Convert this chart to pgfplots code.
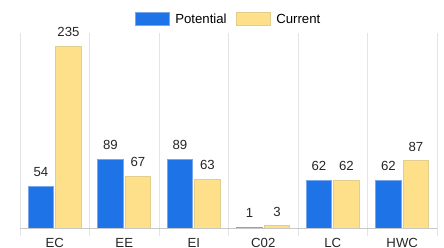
\documentclass[border=0pt]{standalone}
\usepackage{pgfplots}
\pgfplotsset{compat=1.18}
\usepackage{fontspec}
\setmainfont{Liberation Sans}
\definecolor{cblue}{RGB}{30,116,230}
\definecolor{cyellow}{RGB}{255,224,138}
\definecolor{gridc}{RGB}{228,228,228}
\begin{document}
\begin{tikzpicture}
\begin{axis}[
  name=ax,
  scale only axis,
  width=417pt, height=195pt,
  ymin=0, ymax=252,
  xmin=-0.5, xmax=5.5,
  ybar=2pt, bar width=25.5pt,
  /pgf/number format/assume math mode=true,
  xtick={0,1,2,3,4,5},
  xticklabels={EC,EE,EI,C02,LC,HWC},
  minor xtick={-0.5,0.5,1.5,2.5,3.5,4.5,5.5},
  xminorgrids=true,
  minor grid style={gridc, line width=0.8pt},
  major tick length=0pt,
  minor tick length=8pt,
  tick align=outside,
  minor tick style={gridc, line width=0.8pt},
  ytick=\empty,
  axis x line*=bottom,
  axis y line=none,
  axis line style={draw={rgb,255:red,200;green,200;blue,200}, line width=0.8pt, -},
  xticklabel style={font=\fontsize{13.2}{15}\selectfont, inner sep=0pt, anchor=north, yshift=-10pt, text=black!85},
  nodes near coords,
  every node near coord/.append style={font=\fontsize{13.2}{15}\selectfont, anchor=south, inner sep=0pt, yshift=9pt, text=black!85},
  legend style={at={(0.5,1)}, anchor=south, yshift=4pt, draw=none, fill=none,
    font=\fontsize{13.2}{15}\selectfont, legend columns=-1,
    /tikz/every odd column/.append style={column sep=4pt},
    /tikz/every even column/.append style={column sep=7pt}},
  legend image code/.code={\draw[#1] (0pt,-6.5pt) rectangle (34pt,6.5pt);},
]
\addplot[fill=cblue, draw={rgb,255:red,120;green,165;blue,235}, line width=0.6pt] coordinates {(0,54) (1,89) (2,89) (3,1) (4,62) (5,62)};
\addplot[fill=cyellow, draw={rgb,255:red,225;green,205;blue,140}, line width=0.6pt] coordinates {(0,235) (1,67) (2,63) (3,3) (4,62) (5,87)};
\legend{Potential,Current}
\end{axis}
\pgfresetboundingbox
\path[use as bounding box] ([xshift=-20pt,yshift=-20pt]ax.south west) rectangle ++(444pt,248pt);
\end{tikzpicture}
\end{document}
